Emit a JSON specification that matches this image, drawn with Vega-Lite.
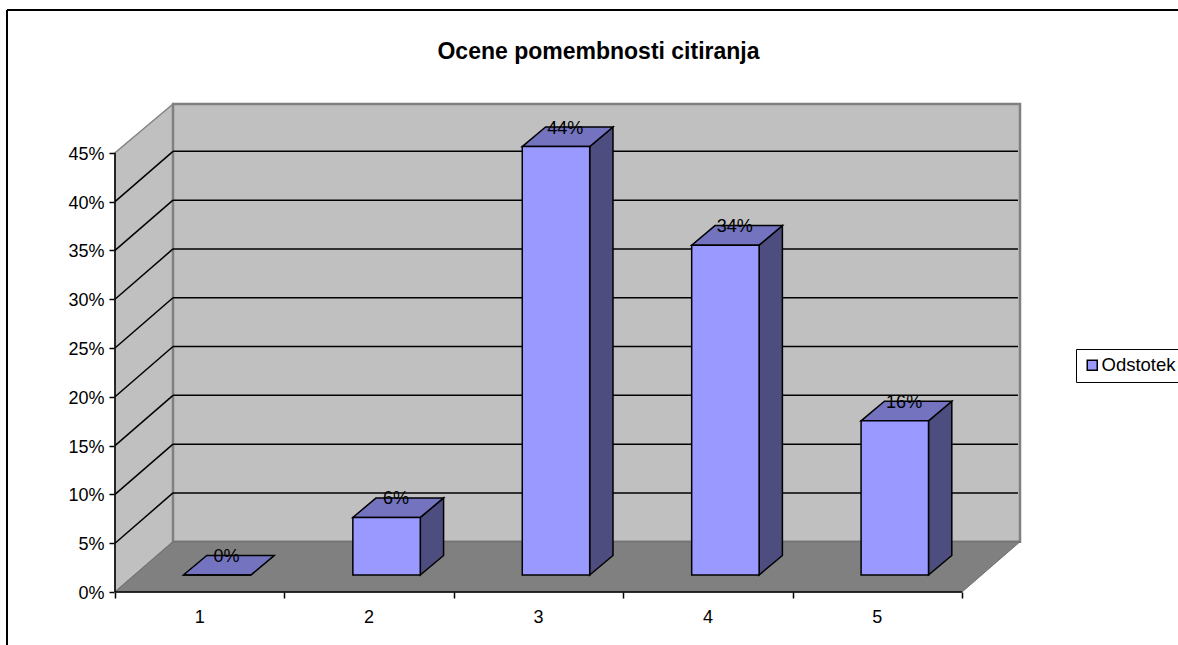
{
"$schema":"https://vega.github.io/schema/vega-lite/v6.json",
"width":905,"height":488,
"autosize":{"type":"none"},
"padding":{"left":115,"top":104,"right":158,"bottom":53},
"background":"white",
"title":{"text":"Ocene pomembnosti citiranja","font":"Liberation Sans","fontSize":23,"fontWeight":"bold","color":"#000","anchor":"middle","dx":31,"dy":55,"offset":0},
"config":{"view":{"stroke":null},"font":"Liberation Sans"},
"datasets":{
"bars":[{"category":1,"value":0},{"category":2,"value":0.059},{"category":3,"value":0.439},{"category":4,"value":0.338},{"category":5,"value":0.158}],
"ticks":[{"tick":0.05},{"tick":0.10},{"tick":0.15},{"tick":0.20},{"tick":0.25},{"tick":0.30},{"tick":0.35},{"tick":0.40}],
"sideWall":[{"wx":0.5,"low":0,"high":0.45},{"wx":0.8424,"low":0.0515,"high":0.5}],
"floor":[{"wy":0,"from":0.5,"to":5.5},{"wy":0.0515,"from":0.8424,"to":5.842}]
},
"layer":[
{"data":{"name":"sideWall"},"mark":{"type":"area","fill":"#c0c0c0","stroke":"#808080","strokeWidth":1.5},
 "encoding":{
  "x":{"field":"wx","type":"quantitative","title":null,"scale":{"domain":[0.5,5.842],"nice":false,"zero":false},
   "axis":{"values":[0.5,1,1.5,2,2.5,3,3.5,4,4.5,5,5.5],"grid":false,"domain":false,"tickSize":6,"tickColor":"#000","tickWidth":1.5,"tickOpacity":{"condition":{"test":"datum.value%1==0","value":0},"value":1},"labelExpr":"datum.value%1==0?format(datum.value,'d'):''","labelFontSize":18,"labelColor":"#000","labelFont":"Liberation Sans","labelPadding":10,"labelOffset":-0.5,"labelFlush":false,"labelOverlap":false}},
  "y":{"field":"low","type":"quantitative","title":null,"scale":{"domain":[0,0.5],"nice":false,"zero":false},
   "axis":{"values":[0,0.05,0.1,0.15,0.2,0.25,0.3,0.35,0.4,0.45],"format":".0%","grid":false,"domain":false,"tickSize":6,"tickColor":"#000","tickWidth":1.5,"labelFontSize":18,"labelColor":"#000","labelFont":"Liberation Sans","labelPadding":5,"labelOffset":1.5,"labelOverlap":false}},
  "y2":{"field":"high"}}},
{"mark":{"type":"rect","fill":"#c0c0c0","stroke":"#808080","strokeWidth":2.5},
 "data":{"values":[{"a":1}]},
 "encoding":{"x":{"datum":0.8424},"x2":{"datum":5.842},"y":{"datum":0.0515},"y2":{"datum":0.5}}},
{"data":{"name":"floor"},"mark":{"type":"area","orient":"horizontal","fill":"#808080","stroke":"#707070","strokeWidth":1},
 "encoding":{"y":{"field":"wy","type":"quantitative"},"x":{"field":"from","type":"quantitative","stack":null},"x2":{"field":"to"}}},
{"data":{"name":"ticks"},"transform":[{"calculate":"datum.tick+0.0515","as":"back"}],"mark":{"type":"rule","color":"#000","strokeWidth":1.5},
 "encoding":{"x":{"datum":0.8424},"x2":{"datum":5.83},"y":{"field":"back","type":"quantitative"}}},
{"data":{"name":"ticks"},"transform":[{"calculate":"datum.tick+0.0515","as":"back"}],"mark":{"type":"rule","color":"#000","strokeWidth":1.5},
 "encoding":{"x":{"datum":0.5},"x2":{"datum":0.8424},"y":{"field":"tick","type":"quantitative"},"y2":{"field":"back"}}},
{"data":{"values":[{"a":1}]},"mark":{"type":"rule","color":"#000","strokeWidth":1.5},
 "encoding":{"x":{"datum":0.5},"y":{"datum":0},"y2":{"datum":0.45}}},
{"data":{"values":[{"a":1}]},"mark":{"type":"rule","color":"#000","strokeWidth":1.5},
 "encoding":{"x":{"datum":0.5},"x2":{"datum":5.5},"y":{"datum":0}}},
{"data":{"name":"bars"},
 "transform":[{"calculate":"[0,1]","as":"d"},{"flatten":["d"]},
  {"calculate":"datum.category+0.302+datum.d*0.1375","as":"sx"},
  {"calculate":"0.0174+datum.d*0.02","as":"sl"},
  {"calculate":"datum.value+datum.sl","as":"sh"}],
 "mark":{"type":"area","fill":"#4d4d80","stroke":"#000","strokeWidth":1.5,"strokeJoin":"miter"},
 "encoding":{"detail":{"field":"category"},"x":{"field":"sx","type":"quantitative"},"y":{"field":"sl","type":"quantitative","stack":null},"y2":{"field":"sh"}}},
{"data":{"name":"bars"},
 "transform":[{"calculate":"[0,1]","as":"d"},{"flatten":["d"]},
  {"calculate":"datum.category-0.096+datum.d*0.1375","as":"tl"},
  {"calculate":"datum.category+0.302+datum.d*0.1375","as":"tr"},
  {"calculate":"datum.value+0.0174+datum.d*0.02","as":"ty"}],
 "mark":{"type":"area","orient":"horizontal","fill":"#7373bf","stroke":"#000","strokeWidth":1.5},
 "encoding":{"detail":{"field":"category"},"y":{"field":"ty","type":"quantitative"},"x":{"field":"tl","type":"quantitative","stack":null},"x2":{"field":"tr"}}},
{"data":{"name":"bars"},
 "transform":[{"calculate":"datum.category-0.096","as":"fl"},{"calculate":"datum.category+0.302","as":"fr"},{"calculate":"datum.value+0.0174","as":"ft"},{"calculate":"0.0174","as":"fb"}],
 "mark":{"type":"rect","stroke":"#000","strokeWidth":1.5},
 "encoding":{"x":{"field":"fl","type":"quantitative"},"x2":{"field":"fr"},"y":{"field":"fb","type":"quantitative"},"y2":{"field":"ft"},
  "fill":{"datum":"Odstotek","scale":{"domain":["Odstotek"],"range":["#9999ff"]},
   "legend":{"orient":"none","legendX":961,"legendY":245,"title":null,"symbolType":"square","symbolSize":100,"symbolStrokeColor":"#000","symbolStrokeWidth":1.5,"labelFont":"Liberation Sans","labelFontSize":18.5,"labelColor":"#000","strokeColor":"#000","padding":7,"labelOffset":0}}}},
{"data":{"name":"bars"},
 "transform":[{"calculate":"datum.category+0.158","as":"lx"},{"calculate":"datum.value+0.0374","as":"ly"}],
 "mark":{"type":"text","font":"Liberation Sans","fontSize":18,"color":"#000","baseline":"middle","align":"center","dy":1.5},
 "encoding":{"x":{"field":"lx","type":"quantitative"},"y":{"field":"ly","type":"quantitative"},"text":{"field":"value","type":"quantitative","format":".0%"}}},
{"data":{"values":[{"a":1}]},"mark":{"type":"rule","color":"#000","strokeWidth":2},
 "encoding":{"x":{"datum":-0.1375},"x2":{"datum":6.78},"y":{"datum":0.5963}}},
{"data":{"values":[{"a":1}]},"mark":{"type":"rule","color":"#000","strokeWidth":2},
 "encoding":{"x":{"datum":-0.1375},"y":{"datum":0.5963},"y2":{"datum":-0.06}}}
]
}
